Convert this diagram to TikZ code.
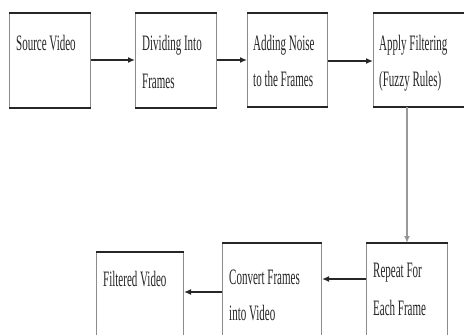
\documentclass[tikz,border=0pt]{standalone}
\usepackage{fontspec}
\setmainfont{Liberation Serif}[FakeStretch=0.5]
\usetikzlibrary{arrows.meta}
\begin{document}
\begin{tikzpicture}[x=1bp,y=-1bp,
  box/.style={draw=black!45, line width=1bp, fill=white},
  edge/.style={draw=black!85, line width=1.6bp},
  lbl/.style={anchor=base west, inner sep=0pt, font=\fontsize{22bp}{24bp}\selectfont, text=black!85},
  conn/.style={line width=1.8bp, draw=black!85, -{Latex[length=7bp,width=6bp]}},
  vconn/.style={line width=1.6bp, draw=black!40, -{Latex[length=7bp,width=6bp,fill=black!85]}}]
\useasboundingbox (0,0) rectangle (464,334);
% boxes
\node[box, minimum width=81bp, minimum height=94bp, inner sep=0pt, anchor=north west] (b1) at (9,13) {};
\node[box, minimum width=81bp, minimum height=94bp, inner sep=0pt, anchor=north west] (b2) at (135,13) {};
\node[box, minimum width=80bp, minimum height=93bp, inner sep=0pt, anchor=north west] (b3) at (247,13) {};
\node[box, minimum width=95bp, minimum height=93bp, inner sep=0pt, anchor=north west] (b4) at (373,13) {};
\node[box, minimum width=81bp, minimum height=100bp, inner sep=0pt, anchor=north west] (b5) at (366,243) {};
\node[box, minimum width=99bp, minimum height=100bp, inner sep=0pt, anchor=north west] (b6) at (222,243) {};
\node[box, minimum width=87bp, minimum height=100bp, inner sep=0pt, anchor=north west] (b7) at (96,252) {};
% darker top/bottom edges
\foreach \b in {b1,b2,b3,b4,b5,b6,b7}{
  \draw[edge] (\b.north west) -- (\b.north east);
  \draw[edge] (\b.south west) -- (\b.south east);
}
% texts
\node[lbl] (t1) at (16,50) {Source Video};
\node[lbl] (t2a) at (142,50) {Dividing Into};
\node[lbl] (t2b) at (142,88) {Frames};
\node[lbl] (t3a) at (253,50) {Adding Noise};
\node[lbl] (t3b) at (253,86) {to the Frames};
\node[lbl] (t4a) at (379,50) {Apply Filtering};
\node[lbl] (t4b) at (379,86) {(Fuzzy Rules)};
\node[lbl] (t5a) at (373,277) {Repeat For};
\node[lbl] (t5b) at (373,315) {Each Frame};
\node[lbl] (t6a) at (229,284) {Convert Frames};
\node[lbl] (t6b) at (229,320) {into Video};
\node[lbl] (t7) at (103,286) {Filtered Video};
% connectors
\draw[conn] (b1.east |- 0,60) -- (b2.west |- 0,60);
\draw[conn] (b2.east |- 0,60) -- (b3.west |- 0,60);
\draw[conn] (b3.east |- 0,61) -- (b4.west |- 0,61);
\draw[vconn] (407,0 |- b4.south) -- (407,0 |- b5.north);
\draw[conn] (b5.west |- 0,279) -- (b6.east |- 0,279);
\draw[conn] (b6.west |- 0,292) -- (b7.east |- 0,292);
\end{tikzpicture}
\end{document}
